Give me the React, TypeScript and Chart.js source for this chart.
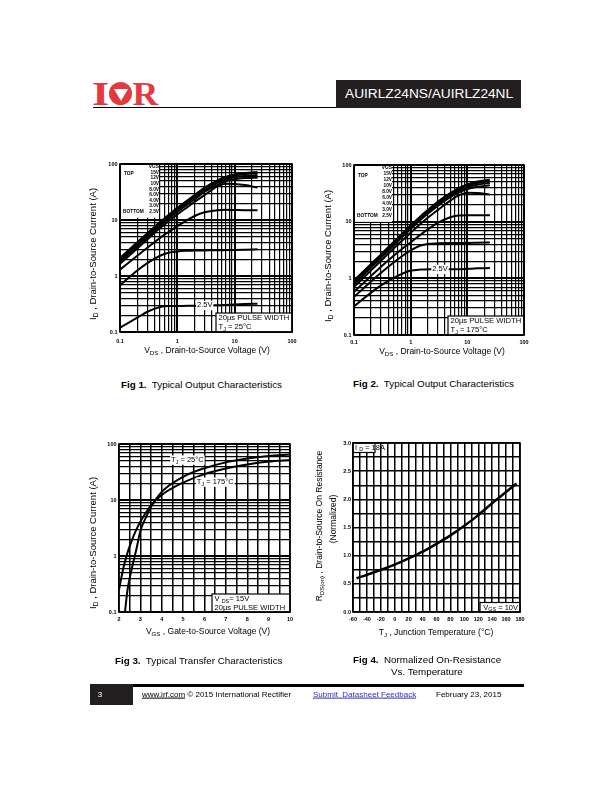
import React, { useEffect, useRef } from 'react';
import { Chart, registerables } from 'chart.js';
Chart.register(...registerables);

const FONT = 'Arial, "Liberation Sans", Helvetica, sans-serif';

// ---------- Fig 1 / Fig 2 : output characteristics ----------
const vdsPoints = [0.1, 0.2, 0.3, 0.5, 0.7, 1, 1.5, 2, 3, 5, 7, 10, 15, 25];
const vgsLabels = ['15V', '12V', '10V', '8.0V', '6.0V', '4.0V', '3.0V', '2.5V'];

// Tj = 25 C
const fig1_15V = [2.1, 4.0, 5.8, 9.2, 12.3, 16.5, 22.5, 28, 38, 51, 59, 65, 69, 72];
const fig1_12V = [2.0, 3.8, 5.5, 8.8, 11.8, 15.8, 21.5, 27, 36.5, 49, 56.5, 62, 66, 68];
const fig1_10V = [1.9, 3.6, 5.2, 8.4, 11.2, 15, 20.5, 25.5, 34.5, 46, 53, 58, 61, 63];
const fig1_8V = [1.8, 3.4, 4.9, 7.9, 10.5, 14, 19, 23.5, 32, 42.5, 49, 53.5, 56, 57];
const fig1_6V = [1.65, 3.1, 4.5, 7.2, 9.5, 12.6, 17, 21, 28, 40, 44.5, 44, 42, 38];
const fig1_4V = [1.3, 2.3, 3.2, 4.8, 6.1, 7.8, 10, 11.8, 13.8, 15, 15.2, 15.1, 15, 15];
const fig1_3V = [0.68, 1.25, 1.7, 2.3, 2.6, 2.75, 2.82, 2.84, 2.86, 2.88, 2.9, 2.92, 2.95, 3.0];
const fig1_25V = [0.12, 0.18, 0.23, 0.28, 0.29, 0.29, 0.295, 0.295, 0.3, 0.3, 0.305, 0.31, 0.315, 0.32];

// Tj = 175 C
const fig2_15V = [0.92, 1.8, 2.65, 4.4, 6.1, 8.6, 12.5, 16, 22.5, 32, 39, 45.5, 51, 55];
const fig2_12V = [0.88, 1.72, 2.55, 4.2, 5.8, 8.2, 12, 15.4, 21.5, 30.5, 37, 43, 48, 52];
const fig2_10V = [0.84, 1.65, 2.45, 4.0, 5.6, 7.9, 11.5, 14.8, 20.5, 29, 35, 40.5, 45, 48.5];
const fig2_8V = [0.78, 1.55, 2.3, 3.8, 5.3, 7.4, 10.8, 13.8, 19, 27, 32.5, 37.5, 41, 44];
const fig2_6V = [0.7, 1.38, 2.05, 3.35, 4.6, 6.4, 9.2, 11.7, 16, 23.5, 29, 32.5, 32, 30];
const fig2_4V = [0.58, 1.1, 1.6, 2.5, 3.3, 4.3, 5.9, 7.3, 9.5, 12, 12.8, 13, 13, 13];
const fig2_3V = [0.47, 0.88, 1.25, 1.9, 2.45, 3.1, 3.8, 4.05, 4.15, 4.2, 4.2, 4.2, 4.25, 4.3];
const fig2_25V = [0.32, 0.56, 0.75, 1.02, 1.2, 1.37, 1.43, 1.44, 1.45, 1.45, 1.45, 1.47, 1.5, 1.52];

const fig1Series = [fig1_15V, fig1_12V, fig1_10V, fig1_8V, fig1_6V, fig1_4V, fig1_3V, fig1_25V];
const fig2Series = [fig2_15V, fig2_12V, fig2_10V, fig2_8V, fig2_6V, fig2_4V, fig2_3V, fig2_25V];

// ---------- Fig 3 : transfer characteristics ----------
const fig3Vgs25 = [2.28, 2.4, 2.6, 2.8, 3, 3.25, 3.5, 4, 5, 6, 7, 8, 9, 10];
const fig3Id25 = [0.1, 0.25, 0.6, 1.25, 2.8, 4.8, 7.6, 14, 26, 37, 47, 55, 61, 65];
const fig3Vgs175 = [2, 2.2, 2.4, 2.6, 2.8, 3, 3.5, 4, 5, 6, 7, 8, 9, 10];
const fig3Id175 = [0.25, 0.6, 1.15, 1.9, 2.9, 4.1, 8.0, 12.3, 20.5, 29, 36.5, 43, 48.5, 52];

// ---------- Fig 4 : normalized on-resistance ----------
const fig4Temp = [-55, -40, -20, 0, 20, 40, 60, 80, 100, 120, 140, 160, 175];
const fig4Rds = [0.6, 0.66, 0.75, 0.84, 0.95, 1.07, 1.21, 1.36, 1.53, 1.72, 1.93, 2.13, 2.28];

// ---------- log axis ticks ----------
const logDecades = [0.1, 1, 10];
const logSteps = [1, 2, 3, 4, 5, 6, 7, 8, 9];
const logTicks = [...logDecades.flatMap((d) => logSteps.map((m) => +(d * m).toPrecision(3))), 100];
const decadeLabels = ['0.1', '1', '10', '100'];

const isDecade = (v: any) => {
  if (typeof v !== 'number' || v <= 0) return false;
  const l = Math.log10(v);
  return Math.abs(l - Math.round(l)) < 1e-6;
};
const decadeLabel = (v: number) => decadeLabels[Math.round(Math.log10(v)) + 1] ?? '';

const TICK_FONT = { family: FONT, size: 5.5, weight: 'bold' as const };
const PAD_L = 40, PAD_T = 10, PAD_R = 12, PAD_B = 22;

type Area = { l: number; t: number; r: number; b: number };

function fitAxis(axis: 'x' | 'y') {
  return (s: any) => {
    if (axis === 'x') s.height = PAD_B;
    else s.width = PAD_L;
  };
}

function logAxis(axis: 'x' | 'y', pad: number) {
  return {
    type: 'logarithmic',
    min: 0.1,
    max: 100,
    afterBuildTicks: (s: any) => {
      s.ticks = logTicks.map((v) => ({ value: v }));
    },
    afterFit: fitAxis(axis),
    grid: {
      color: '#000',
      lineWidth: (c: any) => (isDecade(c.tick ? c.tick.value : 0) ? 2 : 1.2),
      drawTicks: false,
    },
    border: { display: false },
    ticks: {
      autoSkip: false,
      maxRotation: 0,
      padding: pad,
      color: '#000',
      font: TICK_FONT,
      callback: (v: any) => (isDecade(v) ? decadeLabel(v) : ''),
    },
  };
}

function linAxis(axis: 'x' | 'y', min: number, max: number, step: number, pad: number, label: (v: number) => string) {
  return {
    type: 'linear',
    min,
    max,
    afterFit: fitAxis(axis),
    grid: { color: '#000', lineWidth: 1.5, drawTicks: false },
    border: { display: false },
    ticks: {
      stepSize: step,
      autoSkip: false,
      maxRotation: 0,
      padding: pad,
      color: '#000',
      font: TICK_FONT,
      callback: (v: any) => label(v),
    },
  };
}

type Part = { t: string; sub?: boolean };
function rich(ctx: CanvasRenderingContext2D, parts: Part[], x: number, y: number, size: number, align: 'left' | 'center' | 'right' = 'left', bold = false) {
  const main = `${bold ? 'bold ' : ''}${size}px ${FONT}`;
  const subf = `${bold ? 'bold ' : ''}${size * 0.72}px ${FONT}`;
  let w = 0;
  for (const p of parts) {
    ctx.font = p.sub ? subf : main;
    w += ctx.measureText(p.t).width;
  }
  let cx = align === 'left' ? x : align === 'center' ? x - w / 2 : x - w;
  ctx.textBaseline = 'middle';
  ctx.textAlign = 'left';
  ctx.fillStyle = '#000';
  for (const p of parts) {
    ctx.font = p.sub ? subf : main;
    ctx.fillText(p.t, cx, p.sub ? y + size * 0.3 : y);
    cx += ctx.measureText(p.t).width;
  }
  return w;
}

function box(ctx: CanvasRenderingContext2D, x: number, y: number, w: number, h: number, stroke: boolean) {
  ctx.save();
  ctx.fillStyle = '#fff';
  ctx.fillRect(x, y, w, h);
  if (stroke) {
    ctx.strokeStyle = '#000';
    ctx.lineWidth = 1.2;
    ctx.strokeRect(x, y, w, h);
  }
  ctx.restore();
}

function labelOnCurve(chart: any, parts: Part[], xv: number, yv: number, size: number) {
  const ctx = chart.ctx;
  const px = chart.scales.x.getPixelForValue(xv);
  const py = chart.scales.y.getPixelForValue(yv);
  ctx.save();
  let w = 0;
  for (const p of parts) {
    ctx.font = p.sub ? `${size * 0.72}px ${FONT}` : `${size}px ${FONT}`;
    w += ctx.measureText(p.t).width;
  }
  ctx.fillStyle = '#fff';
  ctx.fillRect(px - w / 2 - 1, py - size * 0.6, w + 2, size * 1.25);
  rich(ctx, parts, px, py, size, 'center');
  ctx.restore();
}

function frame(chart: any) {
  const a = chart.chartArea;
  const ctx = chart.ctx;
  ctx.save();
  ctx.strokeStyle = '#000';
  ctx.lineWidth = 1.6;
  ctx.strokeRect(a.left, a.top, a.right - a.left, a.bottom - a.top);
  ctx.restore();
}

function outputLegend(chart: any, xEdge: number, yEdge: number, colRight: number, spacing: number) {
  const ctx = chart.ctx;
  const a = chart.chartArea;
  const xs = chart.scales.x, ys = chart.scales.y;
  ctx.save();
  ctx.fillStyle = '#fff';
  ctx.fillRect(a.left + 1, a.top + 1, xs.getPixelForValue(xEdge) - a.left - 1, ys.getPixelForValue(yEdge) - a.top - 1);
  const rows = ['VGS', ...vgsLabels];
  rows.forEach((r, i) => {
    rich(ctx, [{ t: r }], a.left + colRight, a.top + 2.8 + i * spacing, 4.8, 'right', true);
  });
  rich(ctx, [{ t: 'TOP' }], a.left + 4, a.top + 2.8 + spacing * 1.3, 4.8, 'left', true);
  rich(ctx, [{ t: 'BOTTOM' }], a.left + 3, a.top + 2.8 + spacing * 8, 4.8, 'left', true);
  ctx.restore();
}

function noteBox(chart: any, w: number, h: number, lines: Part[][], size: number) {
  const ctx = chart.ctx;
  const a = chart.chartArea;
  box(ctx, a.right - w, a.bottom - h, w, h, true);
  lines.forEach((ln, i) => {
    rich(ctx, ln, a.right - w + 2.5, a.bottom - h + 5 + i * 9, size, 'left');
  });
}

function outputConfig(series: number[][], tj: string, legendX: number, legendY: number, colRight: number, spacing: number, lblX: number, lblY: number, xPad: number) {
  return {
    type: 'line',
    data: {
      datasets: series.map((s, k) => ({
        label: vgsLabels[k],
        data: vdsPoints.map((x, i) => ({ x, y: s[i] })),
        borderColor: '#000',
        borderWidth: 2,
        pointRadius: 0,
        cubicInterpolationMode: 'monotone',
        fill: false,
      })),
    },
    options: {
      responsive: false,
      animation: false,
      events: [],
      layout: { padding: { left: 0, top: PAD_T, right: PAD_R, bottom: 0 }, autoPadding: false },
      plugins: { legend: { display: false }, tooltip: { enabled: false } },
      scales: { x: logAxis('x', xPad), y: logAxis('y', 2.5) },
    },
    plugins: [
      {
        id: 'ann',
        afterDraw(chart: any) {
          outputLegend(chart, legendX, legendY, colRight, spacing);
          labelOnCurve(chart, [{ t: '2.5V' }], lblX, lblY, 7.5);
          noteBox(chart, 76, 19, [[{ t: '20\u00b5s PULSE WIDTH' }], [{ t: 'T' }, { t: 'J', sub: true }, { t: ' = ' + tj }]], 7.6);
          frame(chart);
        },
      },
    ],
  };
}

function fig3Config() {
  return {
    type: 'line',
    data: {
      datasets: [
        { label: 'TJ = 25°C', data: fig3Vgs25.map((x, i) => ({ x, y: fig3Id25[i] })) },
        { label: 'TJ = 175°C', data: fig3Vgs175.map((x, i) => ({ x, y: fig3Id175[i] })) },
      ].map((d) => ({ ...d, borderColor: '#000', borderWidth: 2, pointRadius: 0, cubicInterpolationMode: 'monotone', fill: false })),
    },
    options: {
      responsive: false,
      animation: false,
      events: [],
      layout: { padding: { left: 0, top: PAD_T, right: PAD_R, bottom: 0 }, autoPadding: false },
      plugins: { legend: { display: false }, tooltip: { enabled: false } },
      scales: {
        x: linAxis('x', 2, 10, 0.5, 4.5, (v) => (Math.abs(v - Math.round(v)) < 1e-6 ? String(Math.round(v)) : '')),
        y: logAxis('y', 2.5),
      },
    },
    plugins: [
      {
        id: 'ann',
        afterDraw(chart: any) {
          labelOnCurve(chart, [{ t: 'T' }, { t: 'J', sub: true }, { t: ' = 25°C' }], 5.2, 52, 7.5);
          labelOnCurve(chart, [{ t: 'T' }, { t: 'J', sub: true }, { t: ' = 175°C' }], 6.5, 21, 7.5);
          noteBox(chart, 78, 18, [[{ t: 'V ' }, { t: 'DS', sub: true }, { t: '= 15V' }], [{ t: '20\u00b5s PULSE WIDTH' }]], 7.6);
          frame(chart);
        },
      },
    ],
  };
}

function fig4Config() {
  return {
    type: 'line',
    data: {
      datasets: [
        {
          label: 'RDS(on)',
          data: fig4Temp.map((x, i) => ({ x, y: fig4Rds[i] })),
          borderColor: '#000',
          borderWidth: 2.5,
          pointRadius: 0,
          cubicInterpolationMode: 'monotone',
          fill: false,
        },
      ],
    },
    options: {
      responsive: false,
      animation: false,
      events: [],
      layout: { padding: { left: 0, top: PAD_T, right: PAD_R, bottom: 0 }, autoPadding: false },
      plugins: { legend: { display: false }, tooltip: { enabled: false } },
      scales: {
        x: linAxis('x', -60, 180, 10, 4.5, (v) => (Math.round(v) % 20 === 0 ? String(Math.round(v)) : '')),
        y: linAxis('y', 0, 3, 0.25, 2, (v) => (Math.abs(v * 2 - Math.round(v * 2)) < 1e-6 ? v.toFixed(1) : '')),
      },
    },
    plugins: [
      {
        id: 'ann',
        afterDraw(chart: any) {
          const ctx = chart.ctx;
          const a = chart.chartArea;
          box(ctx, a.left, a.top, 22, 9.5, true);
          rich(ctx, [{ t: 'I ' }, { t: 'D', sub: true }, { t: ' = 18A' }], a.left + 2, a.top + 4.5, 7.5);
          box(ctx, a.right - 40, a.bottom - 9.5, 40, 9.5, true);
          rich(ctx, [{ t: 'V' }, { t: 'GS', sub: true }, { t: ' = 10V' }], a.right - 2, a.bottom - 4.5, 7.5, 'right');
          frame(chart);
        },
      },
    ],
  };
}

function ChartBox({ area, make }: { area: Area; make: () => any }) {
  const ref = useRef<HTMLCanvasElement>(null);
  useEffect(() => {
    const chart = new Chart(ref.current as HTMLCanvasElement, make());
    return () => chart.destroy();
  }, []);
  const w = area.r - area.l + PAD_L + PAD_R;
  const h = area.b - area.t + PAD_T + PAD_B;
  return (
    <canvas
      ref={ref}
      width={w}
      height={h}
      style={{ position: 'absolute', left: area.l - PAD_L, top: area.t - PAD_T, width: w, height: h }}
    />
  );
}

const Sub = ({ children }: { children: any }) => (
  <sub style={{ fontSize: '0.72em', verticalAlign: '-0.3em', lineHeight: 0 }}>{children}</sub>
);

function Txt({ x, y, size = 8.5, rot = 0, anchor = 'center', children, style }: any) {
  const tx = anchor === 'center' ? '-50%' : anchor === 'left' ? '0%' : '-100%';
  return (
    <div
      style={{
        position: 'absolute',
        left: x,
        top: y,
        transform: `translate(${tx}, -50%) rotate(${rot}deg)`,
        fontSize: size,
        fontFamily: FONT,
        whiteSpace: 'nowrap',
        lineHeight: 1.1,
        color: '#000',
        ...style,
      }}
    >
      {children}
    </div>
  );
}

const AREA1: Area = { l: 120, t: 164, r: 292, b: 332 };
const AREA2: Area = { l: 354, t: 165, r: 524, b: 335 };
const AREA3: Area = { l: 119, t: 444, r: 290, b: 612 };
const AREA4: Area = { l: 353, t: 443, r: 520, b: 612 };

export default function App() {
  const red = '#e23a3f';
  const serif = '"Liberation Serif", "DejaVu Serif", serif';
  return (
    <div style={{ position: 'absolute', left: 0, top: 0, width: 612, height: 792, background: '#fff', fontFamily: FONT }}>
      {/* header logo */}
      <div style={{ position: 'absolute', left: 93, top: 81, height: 25, display: 'flex', alignItems: 'center' }}>
        <span style={{ color: red, fontFamily: serif, fontWeight: 'bold', fontSize: 34, lineHeight: 1, transform: 'scaleX(1.3)', display: 'inline-block', width: 15, textAlign: 'center' }}>I</span>
        <div style={{ width: 23, height: 23, borderRadius: '50%', background: red, display: 'flex', alignItems: 'center', justifyContent: 'center', margin: '0 1px 0 1px' }}>
          <div style={{ width: 0, height: 0, borderLeft: '7.5px solid transparent', borderRight: '7.5px solid transparent', borderTop: '12px solid #fff', marginTop: 2 }} />
        </div>
        <span style={{ color: red, fontFamily: serif, fontWeight: 'bold', fontSize: 34, lineHeight: 1, display: 'inline-block', transform: 'scaleX(1.05)' }}>R</span>
      </div>
      <div style={{ position: 'absolute', left: 93, top: 107, width: 243, height: 1, background: '#000' }} />
      <div style={{ position: 'absolute', left: 336, top: 80, width: 185, height: 28, background: '#231f20' }} />
      <Txt x={345} y={94} size={13.7} anchor="left" style={{ color: '#fff' }}>AUIRLZ24NS/AUIRLZ24NL</Txt>

      {/* charts */}
      <ChartBox area={AREA1} make={() => outputConfig(fig1Series, '25°C', 0.48, 11, 39, 5.6, 3.0, 0.3, 6.5)} />
      <ChartBox area={AREA2} make={() => outputConfig(fig2Series, '175°C', 0.47, 9.9, 38, 6.0, 3.3, 1.45, 4.5)} />
      <ChartBox area={AREA3} make={fig3Config} />
      <ChartBox area={AREA4} make={fig4Config} />

      {/* axis titles */}
      <Txt x={93} y={254} size={9.5} rot={-90}>I<Sub>D</Sub> , Drain-to-Source Current (A)</Txt>
      <Txt x={207} y={351} size={8.5}>V<Sub>DS</Sub> , Drain-to-Source Voltage (V)</Txt>
      <Txt x={328} y={256} size={9.5} rot={-90}>I<Sub>D</Sub> , Drain-to-Source Current (A)</Txt>
      <Txt x={442} y={352} size={8.5}>V<Sub>DS</Sub> , Drain-to-Source Voltage (V)</Txt>
      <Txt x={93} y={543} size={9.5} rot={-90}>I<Sub>D</Sub> , Drain-to-Source Current (A)</Txt>
      <Txt x={208} y={632} size={8.5}>V<Sub>GS</Sub> , Gate-to-Source Voltage (V)</Txt>
      <Txt x={320} y={526} size={8.5} rot={-90}>R<Sub>DS(on)</Sub> , Drain-to-Source On Resistance</Txt>
      <Txt x={334} y={519} size={8.5} rot={-90}>(Normalized)</Txt>
      <Txt x={436} y={633} size={8.5}>T<Sub>J</Sub> , Junction Temperature (°C)</Txt>

      {/* captions */}
      <Txt x={121} y={385} size={9.8} anchor="left"><b>Fig 1.</b>&nbsp; Typical Output Characteristics</Txt>
      <Txt x={353} y={384} size={9.8} anchor="left"><b>Fig 2.</b>&nbsp; Typical Output Characteristics</Txt>
      <Txt x={115} y={661} size={9.8} anchor="left"><b>Fig 3.</b>&nbsp; Typical Transfer Characteristics</Txt>
      <Txt x={353} y={660} size={9.8} anchor="left"><b>Fig 4.</b>&nbsp; Normalized On-Resistance</Txt>
      <Txt x={391} y={672} size={9.8} anchor="left">Vs. Temperature</Txt>

      {/* footer */}
      <div style={{ position: 'absolute', left: 90, top: 684, width: 434, height: 2.5, background: '#000' }} />
      <div style={{ position: 'absolute', left: 90, top: 684, width: 43, height: 21, background: '#231f20' }} />
      <Txt x={100} y={695} size={8} style={{ color: '#fff' }}>3</Txt>
      <Txt x={142} y={695} size={8} anchor="left"><span style={{ textDecoration: 'underline' }}>www.irf.com</span> © 2015 International Rectifier</Txt>
      <Txt x={313} y={695} size={8} anchor="left" style={{ color: '#2e2eb8', textDecoration: 'underline' }}>Submit&nbsp; Datasheet Feedback</Txt>
      <Txt x={436} y={695} size={8} anchor="left">February 23, 2015</Txt>
    </div>
  );
}
